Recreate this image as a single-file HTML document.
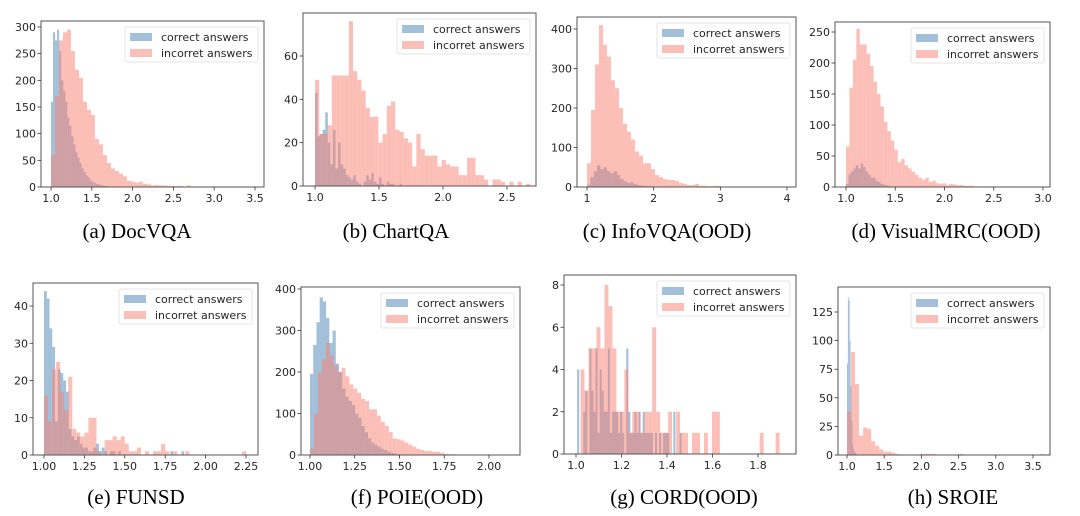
<!DOCTYPE html>
<html><head><meta charset="utf-8">
<style>
html,body{margin:0;padding:0;background:#fff;}
svg{display:block;}
.tk{font-family:"DejaVu Sans","Liberation Sans",sans-serif;font-size:11px;fill:#262626;}
.lg{font-family:"DejaVu Sans","Liberation Sans",sans-serif;font-size:11px;fill:#262626;}
.cap{font-family:"Liberation Serif",serif;font-size:21px;fill:#000;}
</style></head>
<body>
<svg id="fig" width="1080" height="516" viewBox="0 0 1080 516" xmlns="http://www.w3.org/2000/svg"></svg>
<script>
// ---- data (bin start, bin width, counts) ----
const aCorrectStart=1.0, aCorrectWidth=0.025;
const aCorrect=[160,290,275,295,255,200,180,160,130,115,95,80,65,55,45,35,28,22,18,12,10,8,6,5,4,3,2,2,1,1,1,1];
const aIncorrectStart=1.0, aIncorrectWidth=0.049;
const aIncorrect=[60,170,275,290,295,255,220,205,160,145,135,90,80,60,45,35,30,25,20,12,10,8,10,6,5,3,4,3,3,2,2,2,2,1,3,1,1,1,1,0,1,0,0,0,0,0,0,0,0,1];
const aXTicks=[1.0,1.5,2.0,2.5,3.0,3.5], aXLabels=["1.0","1.5","2.0","2.5","3.0","3.5"];
const aYTicks=[0,50,100,150,200,250,300];

const bCorrectStart=1.0, bCorrectWidth=0.02;
const bCorrect=[43,23,24,26,34,20,10,26,8,20,10,8,5,4,3,5,2,1,0,2,5,3,6,2,1,4,1,0,2,1,1,0,0,1];
const bIncorrectStart=1.0, bIncorrectWidth=0.033;
const bIncorrect=[49,24,24,28,51,51,51,51,76,53,49,44,36,32,32,20,24,37,39,26,25,22,20,9,24,17,14,14,14,9,12,10,9,9,5,5,13,13,5,5,3,0,3,3,2,0,2,0,2,0,1];
const bXTicks=[1.0,1.5,2.0,2.5], bXLabels=["1.0","1.5","2.0","2.5"];
const bYTicks=[0,20,40,60];

const cCorrectStart=1.0, cCorrectWidth=0.05;
const cCorrect=[5,25,40,55,45,50,40,35,40,30,20,15,10,12,8,5,4,3,2,2,1];
const cIncorrectStart=1.0, cIncorrectWidth=0.06;
const cIncorrect=[60,195,310,410,360,330,270,250,200,160,140,120,90,80,60,60,45,30,25,20,18,18,15,10,8,5,5,8,3,3,2,2,3,2,1,1,1,1,0,1,0,0,0,1,0,0,1,0,0,1];
const cXTicks=[1,2,3,4], cXLabels=["1","2","3","4"];
const cYTicks=[0,100,200,300,400];

const dCorrectStart=1.0, dCorrectWidth=0.025;
const dCorrect=[5,20,25,30,35,30,38,32,25,20,15,15,10,8,5,4,3,2,1];
const dIncorrectStart=1.0, dIncorrectWidth=0.035;
const dIncorrect=[65,160,205,255,230,230,215,195,170,150,130,105,90,75,60,40,45,35,30,25,20,15,12,15,8,10,6,5,6,3,5,4,3,3,2,2,2,1,1,1,1,0,1,0,0,1,0,0,1];
const dXTicks=[1.0,1.5,2.0,2.5,3.0], dXLabels=["1.0","1.5","2.0","2.5","3.0"];
const dYTicks=[0,50,100,150,200,250];

const eCorrectStart=1.0, eCorrectWidth=0.017;
const eCorrect=[44,42,34,29,9,23,22,20,17,7,5,4,5,3,2,2,1,1,2,3,1,2,1,0,1,1,0,1,0,0,0,0,0,0,0,0,0,0,0,0,0,0,0,0,0,0,1,0,0,0,1];
const eIncorrectStart=1.0, eIncorrectWidth=0.025;
const eIncorrect=[16,9,23,25,17,12,21,7,6,5,6,10,10,1,0,4,4,5,4,5,3,1,1,2,0,1,0,1,1,3,1,0,1,0,0,1,0,0,0,0,0,0,0,0,0,0,0,0,0,1];
const eXTicks=[1.0,1.25,1.5,1.75,2.0,2.25], eXLabels=["1.00","1.25","1.50","1.75","2.00","2.25"];
const eYTicks=[0,10,20,30,40];

const fCorrectStart=1.0, fCorrectWidth=0.018;
const fCorrect=[195,265,320,380,370,330,270,300,220,200,160,140,130,120,100,90,70,55,40,30,25,20,15,12,8,5,3,2,1];
const fIncorrectStart=1.0, fIncorrectWidth=0.022;
const fIncorrect=[15,100,200,230,270,240,215,200,210,190,170,160,150,135,130,110,110,95,80,70,55,40,38,35,30,25,20,15,12,10,10,8,8,5,3,2,2,1,1,0,1];
const fXTicks=[1.0,1.25,1.5,1.75,2.0], fXLabels=["1.00","1.25","1.50","1.75","2.00"];
const fYTicks=[0,100,200,300,400];

const gCorrectStart=1.005, gCorrectWidth=0.009;
const gCorrect=[4,0,0,2,3,0,5,3,2,5,1,4,3,2,2,5,1,2,2,2,1,2,1,0,5,2,1,1,2,1,2,1,2,1,1,1,1,0,1,0,1,0,1,1,1,0,0,2,0,0,1];
const gIncorrectStart=1.02, gIncorrectWidth=0.0175;
const gIncorrect=[4,3,5,5,6,5,8,7,5,2,2,4,1,2,2,1,2,2,6,2,1,1,2,0,2,1,1,0,1,1,0,1,0,2,2,0,0,0,0,0,0,0,0,0,0,1,0,0,0,1];
const gXTicks=[1.0,1.2,1.4,1.6,1.8], gXLabels=["1.0","1.2","1.4","1.6","1.8"];
const gYTicks=[0,2,4,6,8];

const hCorrectStart=1.0, hCorrectWidth=0.012;
const hCorrect=[80,138,135,100,60,30,10,5,3,2,1];
const hIncorrectStart=1.0, hIncorrectWidth=0.054;
const hIncorrect=[38,90,62,17,24,23,12,8,5,3,3,2,1,0,0,0,0,0,1,1,1,1,0,0,0,0,0,0,1,0,0,0,0,0,0,0,0,0,0,0,0,0,0,0,0,0,0,0,1,0,1];
const hXTicks=[1.0,1.5,2.0,2.5,3.0,3.5], hXLabels=["1.0","1.5","2.0","2.5","3.0","3.5"];
const hYTicks=[0,25,50,75,100,125];

// ---- layout (pixel geometry only) ----
const panels=[
 {id:"a",cap:"(a)  DocVQA",cx:137,cy:238,L:41,R:264,T:21,B:187,xv0:1.0,xp0:51,xv1:3.5,xp1:255,yv:300,yp:27,
  cs:aCorrectStart,cw:aCorrectWidth,c:aCorrect,is:aIncorrectStart,iw:aIncorrectWidth,inc:aIncorrect,xt:aXTicks,xl:aXLabels,yt:aYTicks},
 {id:"b",cap:"(b)  ChartQA",cx:396,cy:238,L:303,R:536,T:13,B:186,xv0:1.0,xp0:315,xv1:2.5,xp1:507,yv:60,yp:56,
  cs:bCorrectStart,cw:bCorrectWidth,c:bCorrect,is:bIncorrectStart,iw:bIncorrectWidth,inc:bIncorrect,xt:bXTicks,xl:bXLabels,yt:bYTicks},
 {id:"c",cap:"(c)  InfoVQA(OOD)",cx:667,cy:238,L:577,R:796,T:17,B:187,xv0:1,xp0:587,xv1:4,xp1:787,yv:400,yp:29,
  cs:cCorrectStart,cw:cCorrectWidth,c:cCorrect,is:cIncorrectStart,iw:cIncorrectWidth,inc:cIncorrect,xt:cXTicks,xl:cXLabels,yt:cYTicks},
 {id:"d",cap:"(d)  VisualMRC(OOD)",cx:946,cy:238,L:835,R:1050,T:22,B:187,xv0:1.0,xp0:846,xv1:3.0,xp1:1043,yv:250,yp:32,
  cs:dCorrectStart,cw:dCorrectWidth,c:dCorrect,is:dIncorrectStart,iw:dIncorrectWidth,inc:dIncorrect,xt:dXTicks,xl:dXLabels,yt:dYTicks},
 {id:"e",cap:"(e)  FUNSD",cx:136,cy:504,L:33,R:258,T:283,B:455,xv0:1.0,xp0:44,xv1:2.25,xp1:246,yv:40,yp:306,
  cs:eCorrectStart,cw:eCorrectWidth,c:eCorrect,is:eIncorrectStart,iw:eIncorrectWidth,inc:eIncorrect,xt:eXTicks,xl:eXLabels,yt:eYTicks},
 {id:"f",cap:"(f)  POIE(OOD)",cx:417,cy:504,L:301,R:520,T:287,B:455,xv0:1.0,xp0:310,xv1:2.0,xp1:489,yv:400,yp:289,
  cs:fCorrectStart,cw:fCorrectWidth,c:fCorrect,is:fIncorrectStart,iw:fIncorrectWidth,inc:fIncorrect,xt:fXTicks,xl:fXLabels,yt:fYTicks},
 {id:"g",cap:"(g)  CORD(OOD)",cx:684,cy:504,L:564,R:796,T:275,B:454,xv0:1.0,xp0:576,xv1:1.8,xp1:758,yv:8,yp:285,
  cs:gCorrectStart,cw:gCorrectWidth,c:gCorrect,is:gIncorrectStart,iw:gIncorrectWidth,inc:gIncorrect,xt:gXTicks,xl:gXLabels,yt:gYTicks},
 {id:"h",cap:"(h)  SROIE",cx:953,cy:504,L:838,R:1050,T:287,B:455,xv0:1.0,xp0:847,xv1:3.5,xp1:1033,yv:125,yp:312,
  cs:hCorrectStart,cw:hCorrectWidth,c:hCorrect,is:hIncorrectStart,iw:hIncorrectWidth,inc:hIncorrect,xt:hXTicks,xl:hXLabels,yt:hYTicks}
];

const NS="http://www.w3.org/2000/svg";
const svg=document.getElementById("fig");
function mk(tag,attrs,parent){const e=document.createElementNS(NS,tag);for(const k in attrs)e.setAttribute(k,attrs[k]);parent.appendChild(e);return e;}

panels.forEach(p=>{
  const g=mk("g",{},svg);
  
  
  const xs=v=>p.xp0+(v-p.xv0)*(p.xp1-p.xp0)/(p.xv1-p.xv0);
  const ys=v=>p.B-(v)*(p.B-p.yp)/p.yv;
  const clipId="clip"+p.id;
  const cp=mk("clipPath",{id:clipId},g);
  mk("rect",{x:p.L,y:p.T,width:p.R-p.L,height:p.B-p.T},cp);
  const bars=mk("g",{"clip-path":"url(#"+clipId+")"},g);
  function series(start,w,vals,color,name){
    vals.forEach((v,i)=>{
      if(v<=0)return;
      const x0=xs(start+i*w), x1=xs(start+(i+1)*w);
      const r=mk("rect",{x:x0,y:ys(v),width:Math.max(0.5,x1-x0),height:ys(0)-ys(v),fill:color,"fill-opacity":0.5},bars);
      
      
    });
  }
  series(p.cs,p.cw,p.c,"#4682b4","correct");
  series(p.is,p.iw,p.inc,"#fa8072","incorrect");
  const fr=mk("rect",{x:p.L,y:p.T,width:p.R-p.L,height:p.B-p.T,fill:"none",stroke:"#555","stroke-width":1},g);
  
  
  p.xt.forEach((v,i)=>{
    const x=xs(v);
    mk("line",{x1:x,x2:x,y1:p.B,y2:p.B+3.5,stroke:"#333","stroke-width":0.8},g);
    const t=mk("text",{x:x,y:p.B+15,"text-anchor":"middle",class:"tk"},g);
    t.textContent=p.xl[i];
    
    
  });
  p.yt.forEach(v=>{
    const y=ys(v);
    mk("line",{x1:p.L-3.5,x2:p.L,y1:y,y2:y,stroke:"#333","stroke-width":0.8},g);
    const t=mk("text",{x:p.L-5,y:y+4,"text-anchor":"end",class:"tk"},g);
    t.textContent=String(v);
    
    
  });
  const lw=133, lh=35, lx=p.R-6-lw, ly=p.T+6;
  const lg=mk("g",{},g);
  
  
  mk("rect",{x:lx,y:ly,width:lw,height:lh,rx:2,fill:"#fff","fill-opacity":0.8,stroke:"#ddd","stroke-width":0.8},lg);
  [["correct answers","#4682b4"],["incorret answers","#fa8072"]].forEach((e,i)=>{
    const ey=ly+10+i*16;
    mk("rect",{x:lx+5,y:ey-4,width:22,height:8,fill:e[1],"fill-opacity":0.5},lg);
    const t=mk("text",{x:lx+36,y:ey+4,class:"lg"},lg);
    t.textContent=e[0];
    
    
  });
  const c=mk("text",{x:p.cx,y:p.cy,"text-anchor":"middle",class:"cap"},g);
  c.textContent=p.cap;
  
  
});
</script>
</body></html>
